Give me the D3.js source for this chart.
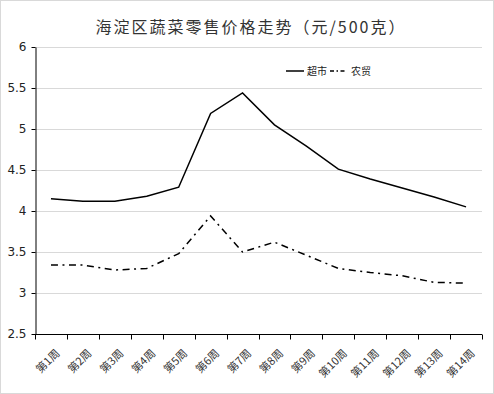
<!DOCTYPE html>
<html>
<head>
<meta charset="utf-8">
<script src="https://cdn.jsdelivr.net/npm/d3@7"></script>
<style>
  body { margin: 0; background: #fff; }
  svg { display: block; }
</style>
</head>
<body>
<div id="chart"></div>
<script>
const weeks = ["第1周", "第2周", "第3周", "第4周", "第5周", "第6周", "第7周",
    "第8周", "第9周", "第10周", "第11周", "第12周", "第13周", "第14周"];
const supermarket = [4.15, 4.12, 4.12, 4.18, 4.29, 5.19, 5.44, 5.05, 4.79, 4.51, 4.39, 4.28, 4.17, 4.05];
const farmMarket = [3.34, 3.34, 3.28, 3.30, 3.48, 3.94, 3.50, 3.62, 3.46, 3.30, 3.25, 3.21, 3.13, 3.12];
const yTicks = [2.5, 3, 3.5, 4, 4.5, 5, 5.5, 6];
const seriesNames = ["超市", "农贸"];

const width = 494, height = 394;
const margin = {top: 47, right: 12, bottom: 60, left: 35};
const cjk = "'Noto Sans CJK SC', sans-serif";

let svg = d3.select("#chart").append("svg")
    .attr("width", width)
    .attr("height", height);

// outer border
svg.append("rect")
    .attr("x", 0.5).attr("y", 0.5)
    .attr("width", width - 1).attr("height", height - 1)
    .attr("fill", "#fff")
    .attr("stroke", "#d9d9d9");

let x = d3.scaleBand()
    .domain(weeks)
    .range([margin.left, width - margin.right]);

let y = d3.scaleLinear()
    .domain([2.5, 6])
    .range([height - margin.bottom, margin.top]);

// gridlines
svg.append("g")
    .selectAll("line")
    .data(yTicks.filter(d => d > 2.5))
    .enter().append("line")
    .attr("x1", margin.left).attr("x2", width - margin.right)
    .attr("y1", d => Math.round(y(d)) + 0.5).attr("y2", d => Math.round(y(d)) + 0.5)
    .attr("stroke", "#d9d9d9");

// title
svg.append("text")
    .attr("x", 251).attr("y", 33)
    .attr("text-anchor", "middle")
    .attr("font-family", cjk)
    .attr("font-size", 16)
    .attr("letter-spacing", 2)
    .attr("fill", "#333")
    .text("海淀区蔬菜零售价格走势（元/500克）");

// y axis
let yAxis = svg.append("g")
    .attr("transform", "translate(" + (margin.left + 0.5) + ",0)")
    .call(d3.axisLeft(y).tickValues(yTicks).tickSize(4).tickSizeOuter(0).tickFormat(d3.format("")));
yAxis.selectAll("line, path").attr("stroke", "#000");
yAxis.selectAll("text")
    .attr("font-family", "'DejaVu Sans', sans-serif")
    .attr("font-size", 12)
    .attr("fill", "#222")
    .attr("x", -9);

// x axis: ticks at category boundaries
let xAxisG = svg.append("g")
    .attr("transform", "translate(0," + (Math.round(y(2.5)) + 0.5) + ")");
xAxisG.append("line")
    .attr("x1", margin.left).attr("x2", width - margin.right)
    .attr("stroke", "#000");
xAxisG.selectAll(".tick")
    .data(weeks.map(w => x(w)).concat([x(weeks[weeks.length - 1]) + x.bandwidth()]))
    .enter().append("line")
    .attr("class", "tick")
    .attr("x1", d => Math.round(d) + 0.5).attr("x2", d => Math.round(d) + 0.5)
    .attr("y1", 0).attr("y2", 5)
    .attr("stroke", "#000");
xAxisG.selectAll(".lbl")
    .data(weeks)
    .enter().append("text")
    .attr("class", "lbl")
    .attr("text-anchor", "end")
    .attr("font-family", cjk)
    .attr("font-size", 11)
    .attr("fill", "#333")
    .attr("transform", d => "translate(" + (x(d) + x.bandwidth() / 2 + 4) + ",14) rotate(-45)")
    .attr("dy", "0.7em")
    .text(d => d);

// lines
let line = d3.line()
    .x((d, i) => x(weeks[i]) + x.bandwidth() / 2)
    .y(d => y(d));

svg.append("path")
    .datum(supermarket)
    .attr("fill", "none")
    .attr("stroke", "#000")
    .attr("stroke-width", 1.5)
    .attr("d", line);

svg.append("path")
    .datum(farmMarket)
    .attr("fill", "none")
    .attr("stroke", "#000")
    .attr("stroke-width", 1.5)
    .attr("stroke-dasharray", "7,4.5,2,4.5")
    .attr("d", line);

// legend
let legend = svg.append("g")
    .attr("font-family", cjk)
    .attr("font-size", 10)
    .attr("fill", "#222");
legend.append("line")
    .attr("x1", 286).attr("x2", 304).attr("y1", 71).attr("y2", 71)
    .attr("stroke", "#000").attr("stroke-width", 1.5);
legend.append("text").attr("x", 307).attr("y", 75).text(seriesNames[0]);
legend.append("line")
    .attr("x1", 330).attr("x2", 346).attr("y1", 71).attr("y2", 71)
    .attr("stroke", "#000").attr("stroke-width", 1.5)
    .attr("stroke-dasharray", "4,2.5,1.5,2.5");
legend.append("text").attr("x", 351).attr("y", 75).text(seriesNames[1]);
</script>
</body>
</html>
